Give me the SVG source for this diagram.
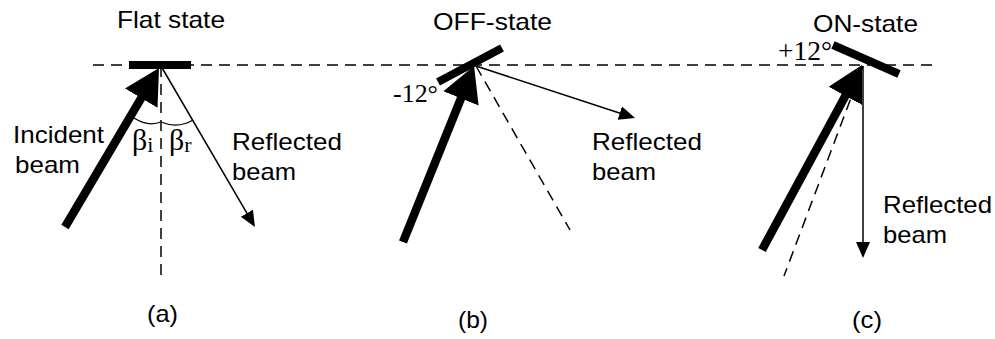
<svg xmlns="http://www.w3.org/2000/svg" width="995" height="339" viewBox="0 0 995 339">
<style>
.sans{font-family:"Liberation Sans",Arial,sans-serif;font-size:24px;fill:#000}
.serif{font-family:"Liberation Serif","Times New Roman",serif;fill:#000}
.dash{stroke:#000;stroke-width:1.5;stroke-dasharray:11 7;fill:none}
.thick{stroke:#000;stroke-width:8.5;fill:none;marker-end:url(#headThick)}
.thin{stroke:#000;stroke-width:1.5;fill:none;marker-end:url(#headThin)}
.mirror{stroke:#000;stroke-width:8;fill:none}
.arc{stroke:#000;stroke-width:1.3;fill:none}
</style>
<defs>
<marker id="headThick" markerUnits="userSpaceOnUse" markerWidth="38" markerHeight="40" refX="3" refY="19" orient="auto">
<path d="M0,0 L35,19 L0,38 z" fill="#000"/>
</marker>
<marker id="headThin" markerUnits="userSpaceOnUse" markerWidth="17" markerHeight="15" refX="2" refY="7" orient="auto">
<path d="M0,0 L16,7 L0,14 z" fill="#000"/>
</marker>
</defs>
<rect width="995" height="339" fill="#fff"/>
<g id="connectors">
<line class="dash" x1="93" y1="65" x2="933" y2="65"/>
<line class="dash" x1="161" y1="66" x2="161" y2="280"/>
<line class="dash" x1="476" y1="66" x2="570" y2="230"/>
<line class="dash" x1="863" y1="66" x2="784" y2="276"/>
<line class="thick" x1="65" y1="227" x2="142.7" y2="95.6"/>
<line class="thin" x1="161" y1="66" x2="247.9" y2="214.9"/>
<line class="thick" x1="403" y1="242" x2="462.1" y2="95.7"/>
<line class="thin" x1="476" y1="66" x2="621.7" y2="113.7"/>
<line class="thick" x1="762" y1="250" x2="846.8" y2="93.2"/>
<line class="thin" x1="863" y1="66" x2="863" y2="244"/>
<path class="arc" d="M134,118 Q148,127 161,122"/>
<path class="arc" d="M161,122 Q178,129 193,120"/>
</g>
<g id="panel-a">
<line class="mirror" x1="129" y1="65" x2="191" y2="65"/>
<text class="sans" x="117" y="28" textLength="108" lengthAdjust="spacingAndGlyphs">Flat state</text>
<text class="sans" x="13" y="143" textLength="91" lengthAdjust="spacingAndGlyphs">Incident</text>
<text class="sans" x="15" y="173" textLength="65" lengthAdjust="spacingAndGlyphs">beam</text>
<text class="serif" x="132" y="150" font-size="30">β<tspan font-size="22" dy="2">i</tspan></text>
<text class="serif" x="169" y="150" font-size="30">β<tspan font-size="22" dy="2">r</tspan></text>
<text class="sans" x="232" y="150" textLength="110" lengthAdjust="spacingAndGlyphs">Reflected</text>
<text class="sans" x="232" y="180" textLength="64" lengthAdjust="spacingAndGlyphs">beam</text>
<text class="sans" x="147" y="322" textLength="31" lengthAdjust="spacingAndGlyphs">(a)</text>
</g>
<g id="panel-b">
<line class="mirror" x1="438" y1="82" x2="502" y2="48"/>
<text class="sans" x="433" y="30" textLength="119" lengthAdjust="spacingAndGlyphs">OFF-state</text>
<text class="serif" x="393" y="102" font-size="26" textLength="45" lengthAdjust="spacingAndGlyphs">-12°</text>
<text class="sans" x="592" y="150" textLength="110" lengthAdjust="spacingAndGlyphs">Reflected</text>
<text class="sans" x="592" y="180" textLength="64" lengthAdjust="spacingAndGlyphs">beam</text>
<text class="sans" x="458" y="328" textLength="30" lengthAdjust="spacingAndGlyphs">(b)</text>
</g>
<g id="panel-c">
<line class="mirror" x1="833" y1="45" x2="899" y2="74"/>
<text class="sans" x="813" y="32" textLength="105" lengthAdjust="spacingAndGlyphs">ON-state</text>
<text class="serif" x="778" y="60" font-size="27" textLength="54" lengthAdjust="spacingAndGlyphs">+12°</text>
<text class="sans" x="883" y="213" textLength="109" lengthAdjust="spacingAndGlyphs">Reflected</text>
<text class="sans" x="883" y="243" textLength="64" lengthAdjust="spacingAndGlyphs">beam</text>
<text class="sans" x="852" y="328" textLength="30" lengthAdjust="spacingAndGlyphs">(c)</text>
</g>
</svg>
